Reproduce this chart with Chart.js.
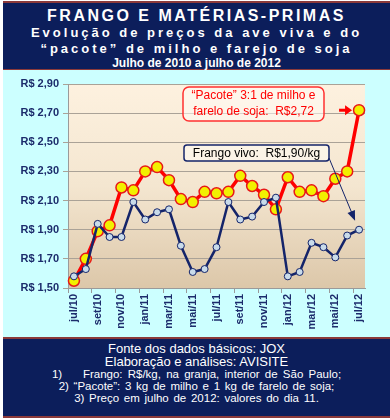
<!DOCTYPE html>
<html>
<head>
<meta charset="utf-8">
<script src="https://cdn.jsdelivr.net/npm/chart.js"></script>
<style>
  body { margin: 0; background: #fff; width: 390px; height: 420px; position: relative; overflow: hidden;
         font-family: "Liberation Sans", Arial, sans-serif; }
  .band { position: absolute; left: 3px; width: 387px; background: #0c1e5b; color: #fff; text-align: center;
          border-top: 2px solid #8c3a3a; border-bottom: 2px solid #8c3a3a; }
  #head { top: 1px; height: 66px; }
  #foot { top: 337px; height: 77px; }
  #bg { position: absolute; left: 3px; top: 70px; width: 387px; height: 267px; background: #ccffff; }
  #chart { position: absolute; left: 0; top: 71px; }
  .t1 { position: absolute; left: 0; right: 0; top: 4px; font: bold 16px "Liberation Sans", Arial; letter-spacing: 2.5px; }
  .t2 { position: absolute; left: 0; right: 0; top: 22px; font: bold 13px "Liberation Sans", Arial; letter-spacing: 3px; }
  .t3 { position: absolute; left: 0; right: 0; top: 38px; font: bold 13px "Liberation Sans", Arial; letter-spacing: 3px; }
  .t4 { position: absolute; left: 0; right: 0; top: 53px; font: bold 12px "Liberation Sans", Arial; }
  .f { position: absolute; left: 0; right: 0; white-space: nowrap; }
  .f1 { top: 2px; font: 13px "Liberation Sans", Arial; }
  .f2 { top: 15px; font: 13px "Liberation Sans", Arial; }
  .f3 { top: 29px; font: 11.5px "Liberation Sans", Arial; word-spacing: 2px; }
  .f4 { top: 41px; font: 11.5px "Liberation Sans", Arial; word-spacing: 1.5px; }
  .f5 { top: 53px; font: 11.5px "Liberation Sans", Arial; word-spacing: 1.5px; }
</style>
</head>
<body>
<div id="head" class="band">
  <div class="t1">FRANGO E MATÉRIAS-PRIMAS</div>
  <div class="t2">Evolução de preços da ave viva e do</div>
  <div class="t3">“pacote” de milho e farejo de soja</div>
  <div class="t4">Julho de 2010 a julho de 2012</div>
</div>
<div id="bg"></div>
<canvas id="chart" width="390" height="266"></canvas>
<div id="foot" class="band">
  <div class="f f1">Fonte dos dados básicos: JOX</div>
  <div class="f f2">Elaboração e análises: AVISITE</div>
  <div class="f f3">1)&nbsp;&nbsp;&nbsp; Frango: R$/kg, na granja, interior de São Paulo;</div>
  <div class="f f4">2) “Pacote”: 3 kg de milho e 1 kg de farelo de soja;</div>
  <div class="f f5">3) Preço em julho de 2012: valores do dia 11.</div>
</div>
<script>
const meses = ['jul/10', 'ago/10', 'set/10', 'out/10', 'nov/10', 'dez/10',
  'jan/11', 'fev/11', 'mar/11', 'abr/11', 'mai/11', 'jun/11',
  'jul/11', 'ago/11', 'set/11', 'out/11', 'nov/11', 'dez/11',
  'jan/12', 'fev/12', 'mar/12', 'abr/12', 'mai/12', 'jun/12', 'jul/12'];

// R$/kg frango vivo
const frangoVivo = [1.58, 1.63, 1.94, 1.85, 1.85, 2.09, 1.97, 2.02, 2.04, 1.79, 1.61, 1.63,
  1.78, 2.09, 1.97, 1.99, 2.09, 2.12, 1.58, 1.61, 1.81, 1.78, 1.71, 1.86, 1.90];

// "pacote" 3 kg milho + 1 kg farelo de soja
const pacote = [1.55, 1.70, 1.89, 1.93, 2.19, 2.17, 2.30, 2.33, 2.24, 2.11, 2.09, 2.16,
  2.15, 2.16, 2.27, 2.20, 2.14, 2.04, 2.26, 2.16, 2.17, 2.13, 2.25, 2.30, 2.72];

const yTicks = [1.5, 1.7, 1.9, 2.1, 2.3, 2.5, 2.7, 2.9];

const navy = '#14246a';
const fontFam = '"Liberation Sans", Arial, sans-serif';

function roundRect(ctx, x, y, w, h, r) {
  ctx.beginPath();
  ctx.moveTo(x + r, y);
  ctx.arcTo(x + w, y, x + w, y + h, r);
  ctx.arcTo(x + w, y + h, x, y + h, r);
  ctx.arcTo(x, y + h, x, y, r);
  ctx.arcTo(x, y, x + w, y, r);
  ctx.closePath();
}

// fundo degradê da área do gráfico
const fundoPlugin = {
  id: 'fundo',
  beforeDraw(chart) {
    const { ctx, chartArea: a } = chart;
    const g = ctx.createLinearGradient(0, a.top, 0, a.bottom);
    g.addColorStop(0, '#fdf1df');
    g.addColorStop(0.5, '#f4e6d0');
    g.addColorStop(1, '#dcc7a9');
    ctx.save();
    ctx.fillStyle = g;
    ctx.fillRect(a.left, a.top, a.right - a.left, a.bottom - a.top);
    ctx.restore();
  }
};

// caixas de texto e setas
const notasPlugin = {
  id: 'notas',
  afterDatasetsDraw(chart) {
    const { ctx, chartArea: a, scales } = chart;
    const last = meses.length - 1;
    const px = scales.x.getPixelForValue(last);
    const pyP = scales.y.getPixelForValue(pacote[last]);
    const pyF = scales.y.getPixelForValue(frangoVivo[last]);
    ctx.save();

    // caixa do pacote
    const bx = a.left + 115, by = a.top + 3, bw = 141, bh = 34;
    roundRect(ctx, bx, by, bw, bh, 6);
    ctx.fillStyle = 'rgba(255,252,245,0.55)';
    ctx.fill();
    ctx.lineWidth = 1.5;
    ctx.strokeStyle = '#ff3030';
    ctx.stroke();
    ctx.fillStyle = '#ff0000';
    ctx.font = '12px ' + fontFam;
    ctx.textAlign = 'center';
    ctx.textBaseline = 'middle';
    ctx.fillText('“Pacote” 3:1 de milho e', bx + bw / 2, by + 9);
    ctx.fillText('farelo de soja:  R$2,72', bx + bw / 2, by + 25);

    // seta vermelha
    ctx.strokeStyle = '#ff0000';
    ctx.fillStyle = '#ff0000';
    ctx.lineWidth = 3;
    ctx.beginPath();
    ctx.moveTo(px - 20, pyP);
    ctx.lineTo(px - 12, pyP);
    ctx.stroke();
    ctx.beginPath();
    ctx.moveTo(px - 7, pyP);
    ctx.lineTo(px - 14, pyP - 5);
    ctx.lineTo(px - 14, pyP + 5);
    ctx.closePath();
    ctx.fill();

    // caixa do frango
    const fx = a.left + 116, fy = a.top + 61, fw = 145, fh = 16;
    roundRect(ctx, fx, fy, fw, fh, 3);
    ctx.fillStyle = 'rgba(255,252,245,0.55)';
    ctx.fill();
    ctx.lineWidth = 1.5;
    ctx.strokeStyle = navy;
    ctx.stroke();
    ctx.fillStyle = '#000';
    ctx.fillText('Frango vivo:  R$1,90/kg', fx + fw / 2, fy + fh / 2 + 1);

    // seta azul
    const sx = fx + fw, sy = fy + fh - 3;
    const tx = px - 4, ty = pyF - 9;
    const ang = Math.atan2(ty - sy, tx - sx);
    ctx.strokeStyle = navy;
    ctx.fillStyle = navy;
    ctx.lineWidth = 1;
    ctx.beginPath();
    ctx.moveTo(sx, sy);
    ctx.lineTo(tx - 8 * Math.cos(ang), ty - 8 * Math.sin(ang));
    ctx.stroke();
    ctx.beginPath();
    ctx.moveTo(tx, ty);
    ctx.lineTo(tx - 10 * Math.cos(ang) + 4 * Math.sin(ang), ty - 10 * Math.sin(ang) - 4 * Math.cos(ang));
    ctx.lineTo(tx - 10 * Math.cos(ang) - 4 * Math.sin(ang), ty - 10 * Math.sin(ang) + 4 * Math.cos(ang));
    ctx.closePath();
    ctx.fill();
    ctx.restore();
  }
};

const ctx = document.getElementById('chart').getContext('2d');
const grafico = new Chart(ctx, {
  type: 'line',
  data: {
    labels: meses,
    datasets: [{
      label: 'Frango vivo',
      data: frangoVivo,
      borderColor: navy,
      borderWidth: 2.5,
      pointRadius: 3.5,
      pointBackgroundColor: '#c9dbea',
      pointBorderColor: navy,
      pointBorderWidth: 1,
      tension: 0
    }, {
      label: 'Pacote',
      data: pacote,
      borderColor: '#ff0000',
      borderWidth: 3.5,
      pointRadius: 5.5,
      pointBackgroundColor: '#f2f000',
      pointBorderColor: '#e81818',
      pointBorderWidth: 1.5,
      tension: 0
    }]
  },
  options: {
    responsive: false,
    animation: false,
    devicePixelRatio: 1,
    layout: { padding: { top: 13, right: 25, left: 0, bottom: 0 } },
    plugins: {
      legend: { display: false },
      tooltip: { enabled: false }
    },
    scales: {
      x: {
        offset: true,
        afterFit: s => { s.height = 49; },
        grid: {
          offset: true,
          drawOnChartArea: false,
          tickLength: 5,
          color: c => (c.index % 2 === 0 ? '#9a9a9a' : 'rgba(0,0,0,0)')
        },
        border: { color: '#9a9a9a' },
        ticks: {
          autoSkip: false,
          maxRotation: 90,
          minRotation: 90,
          padding: 1,
          color: '#1c2c6c',
          font: { family: fontFam, size: 11, weight: 'bold' },
          callback: (v, i) => (i % 2 === 0 ? meses[i] : '')
        }
      },
      y: {
        min: 1.5,
        max: 2.9,
        afterFit: s => { s.width = 68; },
        afterBuildTicks: s => { s.ticks = yTicks.map(v => ({ value: v })); },
        grid: { color: '#aaa297', lineWidth: 1, tickLength: 5 },
        border: { color: '#9a9a9a' },
        ticks: {
          padding: 4,
          color: '#1c2c6c',
          font: { family: fontFam, size: 11, weight: 'bold' },
          callback: v => 'R$ ' + v.toFixed(2).replace('.', ',')
        }
      }
    }
  },
  plugins: [fundoPlugin, notasPlugin]
});
</script>
</body>
</html>
